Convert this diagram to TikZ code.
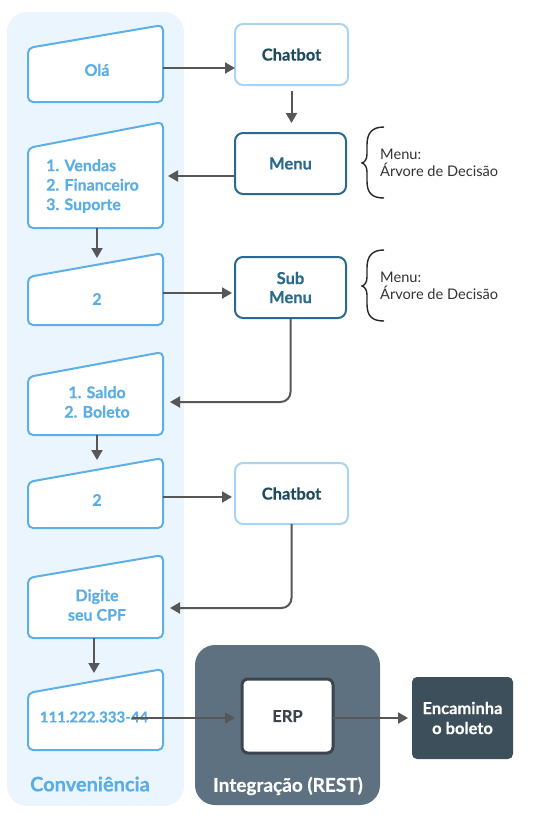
\documentclass[tikz,border=0pt]{standalone}
\usepackage{fontspec}
\setmainfont{Lato}[BoldFeatures={FakeBold=0.45}]
\usetikzlibrary{arrows.meta}
\definecolor{convbg}{HTML}{EBF5FD}
\definecolor{lblue}{HTML}{5DB0E6}
\definecolor{ltext}{HTML}{5AAEE3}
\definecolor{chatborder}{HTML}{A9D3F0}
\definecolor{navy}{HTML}{1E4A5F}
\definecolor{tealb}{HTML}{2A6A8F}
\definecolor{arrowgray}{HTML}{575757}
\definecolor{intbg}{HTML}{5D7181}
\definecolor{encbg}{HTML}{3E4F5C}
\definecolor{erpborder}{HTML}{3A4550}
\newcommand{\mybrace}{(384,127) .. controls (372,127) and (367,133) .. (367,145) -- (367,154) .. controls (367,159) and (365,162) .. (362,163) .. controls (365,164) and (367,167) .. (367,172) -- (367,181) .. controls (367,193) and (372,198) .. (384,198)}
\begin{document}
\begin{tikzpicture}[x=1pt,y=-1pt,
 tbox/.style={draw=none, minimum width=135pt, inner sep=0pt, outer sep=0pt},
 trap/.style={draw=lblue, line width=2pt, fill=white, rounded corners=5pt},
 intext/.style={font=\fontsize{16}{19.5}\selectfont\bfseries, text=ltext, align=center, inner sep=0pt},
 rbox/.style={rectangle, rounded corners=8pt, fill=white, line width=2pt, minimum width=112pt, minimum height=61pt, font=\fontsize{16.5}{19}\selectfont\bfseries, align=center, outer sep=0pt},
 arr/.style={draw=arrowgray, line width=2pt, -{Triangle[length=10pt,width=11pt]}},
 note/.style={font=\fontsize{14.6}{17}\selectfont, text=black!80, align=left, anchor=west, inner sep=0pt},
 bracestyle/.style={draw=black!85, line width=1.4pt}
]
\useasboundingbox (0,0) rectangle (543,815);
% panels
\fill[convbg, rounded corners=20pt] (7,12) rectangle (184,806);
\fill[intbg, rounded corners=20pt] (195,645) rectangle (380,805);
\node[font=\fontsize{20}{24}\selectfont\bfseries, text=ltext] (convlabel) at (90,784) {Conveniência};
\node[font=\fontsize{19}{23}\selectfont\bfseries, text=white] (intlabel) at (288,786) {Integração (REST)};

% left boxes
\node[tbox, minimum height=54pt] (b1) at (95.5,75) {};
\draw[trap] (b1.south west) -- (b1.north west) -- ([yshift=23pt]b1.north east) -- (b1.south east) -- cycle;
\node[intext] (t1) at (97,70) {Olá};

\node[tbox, minimum height=80pt] (b2) at (95.5,188) {};
\draw[trap] (b2.south west) -- (b2.north west) -- ([yshift=26pt]b2.north east) -- (b2.south east) -- cycle;
\node[intext, align=left, anchor=west] (t2) at (46,186) {1. Vendas\\2. Financeiro\\3. Suporte};

\node[tbox, minimum height=48pt] (b3) at (95.5,301) {};
\draw[trap] (b3.south west) -- (b3.north west) -- ([yshift=24pt]b3.north east) -- (b3.south east) -- cycle;
\node[intext] (t3) at (97,299) {2};

\node[tbox, minimum height=58pt] (b4) at (95.5,406) {};
\draw[trap] (b4.south west) -- (b4.north west) -- ([yshift=25pt]b4.north east) -- (b4.south east) -- cycle;
\node[intext] (t4) at (97,402) {1. Saldo\\2. Boleto};

\node[tbox, minimum height=46pt] (b5) at (95.5,505) {};
\draw[trap] (b5.south west) -- (b5.north west) -- ([yshift=24pt]b5.north east) -- (b5.south east) -- cycle;
\node[intext] (t5) at (97,500) {2};

\node[tbox, minimum height=60pt] (b6) at (95.5,608) {};
\draw[trap] (b6.south west) -- (b6.north west) -- ([yshift=23pt]b6.north east) -- (b6.south east) -- cycle;
\node[intext] (t6) at (97,605) {Digite\\seu CPF};

\node[tbox, minimum height=57pt] (b7) at (95.5,721.5) {};
\draw[trap] (b7.south west) -- (b7.north west) -- ([yshift=24pt]b7.north east) -- (b7.south east) -- cycle;
\node[intext, font=\fontsize{15}{19.5}\selectfont\bfseries] (t7) at (94,717) {111.222.333-44};

% right boxes
\node[rbox, draw=chatborder, text=navy, minimum width=113pt] (chat1) at (291.5,54.5) {Chatbot};
\node[rbox, draw=tealb, text=tealb, minimum width=111pt] (menu) at (290.5,163.5) {Menu};
\node[rbox, draw=tealb, text=tealb, minimum width=111pt] (submenu) at (290.5,287.5) {Sub\\Menu};
\node[rbox, draw=chatborder, text=navy, minimum width=113pt] (chat2) at (291.5,493.5) {Chatbot};
\node[rbox, draw=erpborder, line width=3pt, text=erpborder, minimum width=91pt, minimum height=74pt, rounded corners=6pt] (erp) at (287.5,716) {ERP};
\node[rbox, fill=encbg, draw=none, text=white, minimum width=101pt, minimum height=82pt, rounded corners=5pt, font=\fontsize{16.5}{20}\selectfont\bfseries] (enc) at (462.5,718) {Encaminha\\o boleto};

% notes
\draw[bracestyle] \mybrace;
\begin{scope}[yshift=-123pt]
\draw[bracestyle] \mybrace;
\end{scope}
\node[note] (n1) at (380,163) {Menu:\\Árvore de Decisão};
\node[note] (n2) at (380,286) {Menu:\\Árvore de Decisão};

% connectors
\coordinate (a1) at ([yshift=2pt]t1);
\draw[arr] (b1.east |- a1) -- (chat1.west |- a1);
\draw[arr, shorten <=6pt, shorten >=10pt] (chat1.south) -- (chat1.south |- menu.north);
\coordinate (m1) at ([yshift=-12.5pt]menu.west);
\draw[arr, shorten >=5pt] (m1) -- (b2.east |- m1);
\draw[arr] (b2.south -| t3) -- ([yshift=19pt]b3.north -| t3);
\coordinate (a3) at ([yshift=6pt]t3);
\draw[arr, shorten >=3pt] (b3.east |- a3) -- (submenu.west |- a3);
\draw[arr, rounded corners=10pt, shorten >=7pt] (submenu.south) |- (b4.east |- t4);
\draw[arr] (b4.south -| t5) -- ([yshift=22pt]b5.north -| t5);
\coordinate (a5) at ([yshift=3pt]t5);
\draw[arr, shorten >=3pt] (b5.east |- a5) -- (chat2.west |- a5);
\coordinate (a6) at ([yshift=-3pt]t6);
\draw[arr, rounded corners=10pt, shorten >=7pt] (chat2.south) |- (b6.east |- a6);
\draw[arr] (b6.south -| t7) -- ([yshift=20pt]b7.north -| t7);
\coordinate (s7) at (132,718);
\draw[arr, shorten >=7pt] (s7) -- (erp.west |- s7);
\draw[arr, shorten >=4pt] (erp.east |- s7) -- (enc.west |- s7);
\end{tikzpicture}
\end{document}
